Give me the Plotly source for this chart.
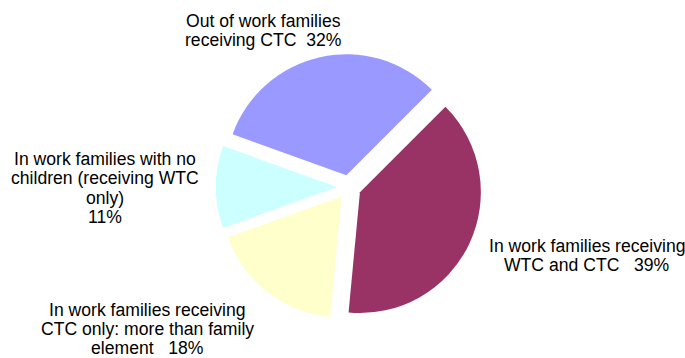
import plotly.graph_objects as go

# Family groups and their share of tax-credit families (%)
categories = [
    "In work families receiving WTC and CTC",
    "In work families receiving CTC only: more than family element",
    "In work families with no children (receiving WTC only)",
    "Out of work families receiving CTC",
]
shares = [39, 18, 11, 32]
colors = ["#993366", "#FFFFCC", "#CCFFFF", "#9999FF"]

NB = "\u00a0"
# Label lines for each slice; "{v}" is replaced by the slice share
label_lines = [
    ["In work families receiving", "WTC and CTC" + NB * 3 + "{v}%"],
    ["In work families receiving", "CTC only: more than family", "element" + NB * 3 + "{v}%"],
    ["In work families with no", "children (receiving WTC", "only)", "{v}%"],
    ["Out of work families", "receiving CTC" + NB * 2 + "{v}%"],
]

W, H = 685, 358
FONT_SIZE = 17.6
FONT = dict(family="Liberation Sans, Arial, sans-serif", size=FONT_SIZE, color="#000000")

# Label block placement: (centre x px, first baseline y px, line step px)
label_place = [
    (587, 252, 19.5),
    (147, 316, 19.0),
    (105, 165, 19.4),
    (263, 27, 19.0),
]

fig = go.Figure(
    go.Pie(
        labels=categories,
        values=shares,
        sort=False,
        direction="clockwise",
        rotation=45,
        pull=[0.1] * len(shares),
        marker=dict(colors=colors, line=dict(width=0)),
        textinfo="none",
        hoverinfo="label+percent",
        showlegend=False,
        domain=dict(x=[215 / W, 483 / W], y=[38 / H, 304 / H]),
    )
)

annotations = []
for lines, v, (cx, by, step) in zip(label_lines, shares, label_place):
    for i, line in enumerate(lines):
        base = by + i * step
        annotations.append(
            dict(
                text=line.format(v=v),
                x=cx / W,
                y=1 - (base - 0.35 * FONT_SIZE) / H,
                xref="paper",
                yref="paper",
                xanchor="center",
                yanchor="middle",
                showarrow=False,
                font=FONT,
            )
        )

fig.update_layout(
    width=W,
    height=H,
    margin=dict(l=0, r=0, t=0, b=0),
    paper_bgcolor="white",
    plot_bgcolor="white",
    annotations=annotations,
)

fig.write_html("out.html")
